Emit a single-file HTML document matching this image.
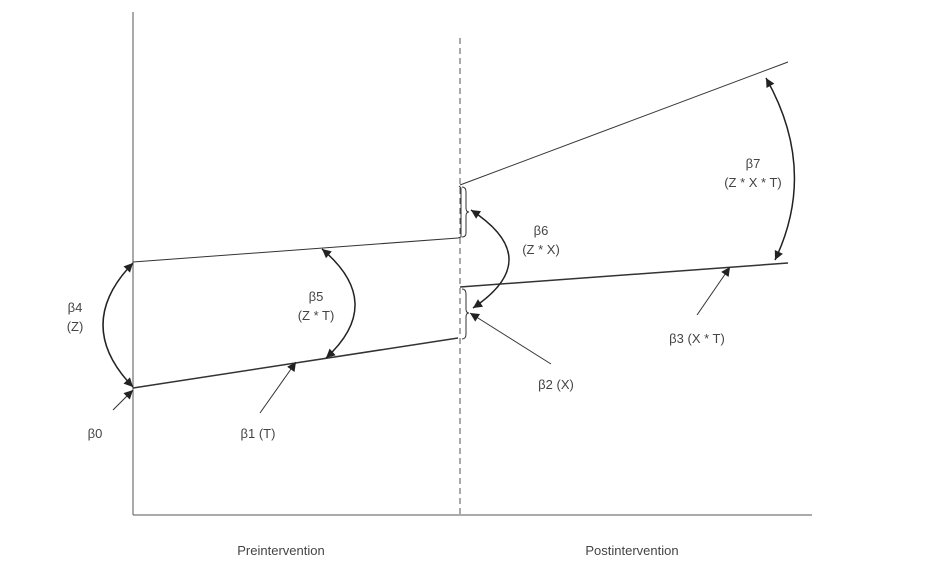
<!DOCTYPE html>
<html><head><meta charset="utf-8"><style>
html,body{margin:0;padding:0;background:#fff;}
svg{display:block;}
text{font-family:"Liberation Sans",sans-serif;font-size:13px;fill:#444;}
</style></head><body>
<svg width="926" height="579" viewBox="0 0 926 579" xmlns="http://www.w3.org/2000/svg">
<defs>
<marker id="a" viewBox="0 0 10 10" refX="10" refY="5" markerWidth="12" markerHeight="9" orient="auto-start-reverse" markerUnits="userSpaceOnUse">
<path d="M0,0 L10,5 L0,10 z" fill="#222"/>
</marker>
</defs>
<g fill="none" stroke="#555" stroke-width="1">
<line x1="133" y1="12" x2="133" y2="515"/>
<line x1="133" y1="515" x2="812" y2="515"/>
<line x1="460" y1="38" x2="460" y2="515" stroke-dasharray="6,4"/>
</g>
<g fill="none" stroke="#333">
<line x1="133" y1="262" x2="458" y2="238" stroke-width="1"/>
<line x1="133" y1="388" x2="458" y2="338" stroke-width="1.5"/>
<line x1="460" y1="185" x2="788" y2="62" stroke-width="1"/>
<line x1="460" y1="287" x2="788" y2="263" stroke-width="1.5"/>
<path d="M458,238 L461,237 L461,188 L459,186" stroke-width="1"/>
<path d="M462,187 Q466,187 466,192 L466,208 Q466,212 469,212 Q466,212 466,216 L466,233 Q466,237 462,237" stroke-width="1"/>
<path d="M462,289 Q466,289 466,294 L466,309 Q466,313 469,313 Q466,313 466,317 L466,334 Q466,339 462,339" stroke-width="1"/>
</g>
<g fill="none" stroke="#222" stroke-width="1.5">
<path d="M133,263 Q73,325 133,387" marker-start="url(#a)" marker-end="url(#a)"/>
<path d="M322,249 Q386,303 326,358" marker-start="url(#a)" marker-end="url(#a)"/>
<path d="M471,210 Q546,259 473,308" marker-start="url(#a)" marker-end="url(#a)"/>
<path d="M766,78 Q818,170 775,260" marker-start="url(#a)" marker-end="url(#a)"/>
</g>
<g fill="none" stroke="#333" stroke-width="1">
<line x1="113" y1="410" x2="133" y2="390" marker-end="url(#a)"/>
<line x1="260" y1="413" x2="296" y2="362" marker-end="url(#a)"/>
<line x1="551" y1="364" x2="470" y2="313" marker-end="url(#a)"/>
<line x1="697" y1="315" x2="730" y2="267" marker-end="url(#a)"/>
</g>
<text x="75" y="312" text-anchor="middle">β4</text>
<text x="75" y="331" text-anchor="middle">(Z)</text>
<text x="95" y="438" text-anchor="middle">β0</text>
<text x="258" y="438" text-anchor="middle">β1 (T)</text>
<text x="316" y="301" text-anchor="middle">β5</text>
<text x="316" y="320" text-anchor="middle">(Z * T)</text>
<text x="541" y="235" text-anchor="middle">β6</text>
<text x="541" y="254" text-anchor="middle">(Z * X)</text>
<text x="753" y="168" text-anchor="middle">β7</text>
<text x="753" y="187" text-anchor="middle">(Z * X * T)</text>
<text x="556" y="389" text-anchor="middle">β2 (X)</text>
<text x="697" y="343" text-anchor="middle">β3 (X * T)</text>
<text x="281" y="555" text-anchor="middle">Preintervention</text>
<text x="632" y="555" text-anchor="middle">Postintervention</text>
</svg>
</body></html>
